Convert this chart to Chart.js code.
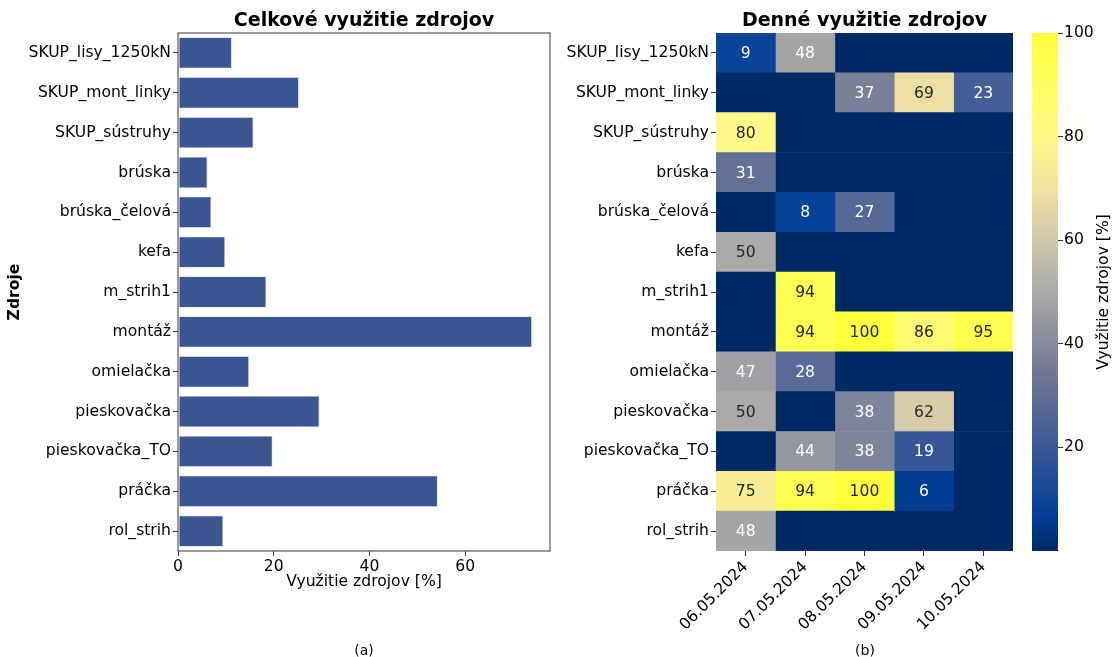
<!DOCTYPE html>
<html>
<head>
<meta charset="utf-8">
<script src="https://cdn.jsdelivr.net/npm/chart.js@4.4.0/dist/chart.umd.min.js"></script>
<style>
  body { margin: 0; background: #fff; }
  #wrap { position: relative; width: 1115px; height: 657px; overflow: hidden; }
  canvas { position: absolute; top: 0; }
  .cap { position: absolute; top: 642px; width: 40px; text-align: center; font: 14px 'DejaVu Sans', sans-serif; color: #000; }
</style>
</head>
<body>
<div id="wrap">
  <canvas id="barChart" width="560" height="657" style="left:0"></canvas>
  <canvas id="heatChart" width="460" height="657" style="left:560px"></canvas>
  <canvas id="cbarChart" width="115" height="657" style="left:1000px"></canvas>
  <div class="cap" style="left:344px">(a)</div>
  <div class="cap" style="left:845px">(b)</div>
</div>
<script>
// Resources (rows) and overall utilization [%]
const resources = ['SKUP_lisy_1250kN', 'SKUP_mont_linky', 'SKUP_sústruhy', 'brúska', 'brúska_čelová', 'kefa',
    'm_strih1', 'montáž', 'omielačka', 'pieskovačka', 'pieskovačka_TO', 'práčka', 'rol_strih'];
const overall = [11.3, 25.3, 15.8, 6.2, 7.0, 9.9, 18.5, 74.0, 14.9, 29.6, 19.8, 54.3, 9.5];

// Daily utilization [%], one array per day (same order as resources)
const dates = ['06.05.2024', '07.05.2024', '08.05.2024', '09.05.2024', '10.05.2024'];
const day0605 = [9, 0, 80, 31, 0, 50, 0, 0, 47, 50, 0, 75, 48];
const day0705 = [48, 0, 0, 0, 8, 0, 94, 94, 28, 0, 44, 94, 0];
const day0805 = [0, 37, 0, 0, 27, 0, 0, 100, 0, 38, 38, 100, 0];
const day0905 = [0, 69, 0, 0, 0, 0, 0, 86, 0, 62, 19, 6, 0];
const day1005 = [0, 23, 0, 0, 0, 0, 0, 95, 0, 0, 0, 0, 0];
const days = [day0605, day0705, day0805, day0905, day1005];

// Tick labels
const barTicks = [0, 20, 40, 60];
const cbarTicks = [20, 40, 60, 80, 100];

Chart.defaults.font.family = "'DejaVu Sans', sans-serif";
Chart.defaults.color = '#000';
Chart.defaults.animation = false;

const FS = 15.6;
const barColor = '#3b5591';

// colormap stops: navy -> blue -> gray -> pale yellow -> yellow
const cmapStops = [
    [0.00, [0, 42, 102]],
    [0.07, [0, 64, 152]],
    [0.20, [58, 88, 150]],
    [0.35, [115, 122, 150]],
    [0.50, [170, 170, 168]],
    [0.62, [215, 205, 168]],
    [0.70, [240, 226, 160]],
    [0.80, [255, 250, 135]],
    [1.00, [255, 255, 60]]
];
function cmap(t) {
    t = Math.max(0, Math.min(1, t));
    for (let i = 1; i < cmapStops.length; i++) {
        const [t1, c1] = cmapStops[i];
        const [t0, c0] = cmapStops[i - 1];
        if (t <= t1) {
            const f = (t - t0) / (t1 - t0);
            const c = c0.map((v, k) => Math.round(v + (c1[k] - v) * f));
            return `rgb(${c[0]},${c[1]},${c[2]})`;
        }
    }
    const c = cmapStops[cmapStops.length - 1][1];
    return `rgb(${c[0]},${c[1]},${c[2]})`;
}

// frame (all four spines) around the bar chart
const framePlugin = {
    id: 'frame',
    afterDraw(chart) {
        const { left, top, right, bottom } = chart.chartArea;
        const ctx = chart.ctx;
        ctx.save();
        ctx.strokeStyle = '#555';
        ctx.lineWidth = 1.2;
        ctx.strokeRect(left, top, right - left, bottom - top);
        ctx.restore();
    }
};

// ---- (a) overall utilization bar chart ----
new Chart(document.getElementById('barChart'), {
    type: 'bar',
    data: {
        labels: resources,
        datasets: [{
            data: overall,
            backgroundColor: barColor,
            borderColor: 'rgba(225,232,245,0.8)',
            borderWidth: 1,
            borderSkipped: false,
            barPercentage: 0.8,
            categoryPercentage: 1
        }]
    },
    options: {
        indexAxis: 'y',
        responsive: false,
        layout: { padding: { left: 0, right: 10, top: 0, bottom: 66 } },
        scales: {
            x: {
                type: 'linear',
                min: 0,
                max: Math.max(...overall) * 1.05,
                afterBuildTicks: s => { s.ticks = barTicks.map(v => ({ value: v })); },
                grid: { drawOnChartArea: false, tickLength: 5, color: '#333' },
                border: { display: false },
                ticks: { font: { size: FS }, padding: 2, color: '#000' },
                title: { display: true, text: 'Využitie zdrojov [%]', font: { size: FS }, padding: 0 },
                afterFit: s => { s.height = 40; }
            },
            y: {
                type: 'category',
                grid: { drawOnChartArea: false, tickLength: 5, color: '#333', offset: false },
                border: { display: false },
                ticks: { font: { size: FS }, padding: 2, color: '#000', autoSkip: false },
                title: { display: true, text: 'Zdroje', font: { size: FS, weight: 'bold' }, padding: { top: 6, bottom: 0 } },
                afterFit: s => { s.width = 178; }
            }
        },
        plugins: {
            legend: { display: false },
            tooltip: { enabled: false },
            title: {
                display: true,
                text: 'Celkové využitie zdrojov',
                fullSize: false,
                color: '#000',
                font: { size: 19, weight: 'bold' },
                padding: { top: 10, bottom: 0.2 }
            }
        }
    },
    plugins: [framePlugin]
});

// ---- (b) daily utilization heatmap ----
const annotatePlugin = {
    id: 'annotate',
    afterDatasetsDraw(chart) {
        const ctx = chart.ctx;
        ctx.save();
        ctx.font = `${FS}px 'DejaVu Sans', sans-serif`;
        ctx.textAlign = 'center';
        ctx.textBaseline = 'middle';
        days.forEach((vals, j) => {
            const meta = chart.getDatasetMeta(j);
            meta.data.forEach((el, i) => {
                const v = vals[i];
                if (!v) return;
                const p = el.getCenterPoint();
                ctx.fillStyle = v >= 50 ? '#262626' : '#ffffff';
                ctx.fillText(String(v), p.x, p.y + 1);
            });
        });
        ctx.restore();
    }
};

new Chart(document.getElementById('heatChart'), {
    type: 'bar',
    data: {
        labels: resources,
        datasets: days.map((vals, j) => ({
            label: dates[j],
            data: vals.map(() => [j, j + 1]),
            backgroundColor: vals.map(v => cmap(v / 100)),
            borderWidth: 0,
            grouped: false,
            barPercentage: 1,
            categoryPercentage: 1
        }))
    },
    options: {
        indexAxis: 'y',
        responsive: false,
        layout: { padding: { left: 0, right: 7, top: 0, bottom: 0 } },
        scales: {
            x: {
                type: 'linear',
                min: 0,
                max: dates.length,
                afterBuildTicks: s => { s.ticks = dates.map((d, j) => ({ value: j + 0.5 })); },
                grid: { drawOnChartArea: false, tickLength: 5, color: '#333' },
                border: { display: false },
                ticks: {
                    font: { size: FS }, padding: 2, color: '#000', autoSkip: false,
                    minRotation: 45, maxRotation: 45,
                    callback: v => dates[Math.floor(v)]
                },
                afterFit: s => { s.height = 106; }
            },
            y: {
                type: 'category',
                grid: { drawOnChartArea: false, tickLength: 5, color: '#333', offset: false },
                border: { display: false },
                ticks: { font: { size: FS }, padding: 2, color: '#000', autoSkip: false },
                afterFit: s => { s.width = 156; }
            }
        },
        plugins: {
            legend: { display: false },
            tooltip: { enabled: false },
            title: {
                display: true,
                text: 'Denné využitie zdrojov',
                fullSize: false,
                color: '#000',
                font: { size: 19, weight: 'bold' },
                padding: { top: 10, bottom: 0.2 }
            }
        }
    },
    plugins: [annotatePlugin]
});

// ---- colorbar ----
const cbarLabelPlugin = {
    id: 'cbarLabel',
    afterDraw(chart) {
        const { top, bottom } = chart.chartArea;
        const ctx = chart.ctx;
        ctx.save();
        ctx.translate(104, (top + bottom) / 2);
        ctx.rotate(-Math.PI / 2);
        ctx.font = `${FS}px 'DejaVu Sans', sans-serif`;
        ctx.fillStyle = '#000';
        ctx.textAlign = 'center';
        ctx.textBaseline = 'middle';
        ctx.fillText('Využitie zdrojov [%]', 0, 0);
        ctx.restore();
    }
};

new Chart(document.getElementById('cbarChart'), {
    type: 'bar',
    data: {
        labels: [''],
        datasets: [{
            data: [[0, 100]],
            backgroundColor: ctx => {
                const area = ctx.chart.chartArea;
                if (!area) return cmap(0.5);
                const g = ctx.chart.ctx.createLinearGradient(0, area.bottom, 0, area.top);
                cmapStops.forEach(([t]) => g.addColorStop(t, cmap(t)));
                return g;
            },
            borderWidth: 0,
            barPercentage: 1,
            categoryPercentage: 1
        }]
    },
    options: {
        responsive: false,
        layout: { padding: { left: 32, right: 0, top: 33, bottom: 106 } },
        scales: {
            x: { display: false },
            y: {
                position: 'right',
                min: 0,
                max: 100,
                afterBuildTicks: s => { s.ticks = cbarTicks.map(v => ({ value: v })); },
                grid: { drawOnChartArea: false, tickLength: 5, color: '#333' },
                border: { display: false },
                ticks: { font: { size: FS }, padding: 1, color: '#000' },
                afterFit: s => { s.width = 57; }
            }
        },
        plugins: {
            legend: { display: false },
            tooltip: { enabled: false }
        }
    },
    plugins: [cbarLabelPlugin]
});
</script>
</body>
</html>
